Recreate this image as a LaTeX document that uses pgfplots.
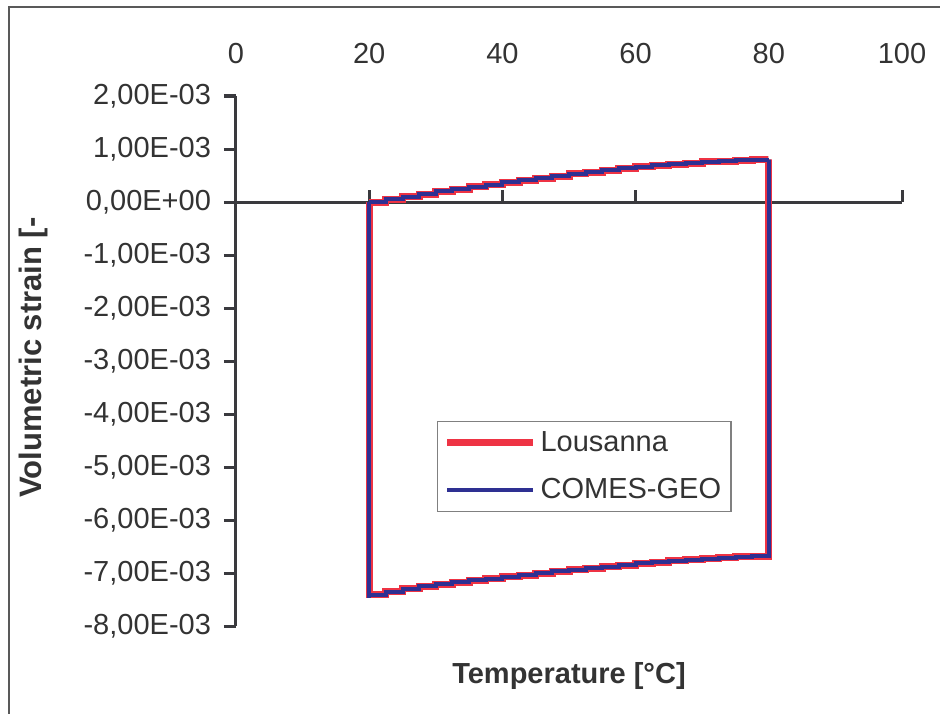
\documentclass[border=0pt]{standalone}
\usepackage{fontspec}
\setmainfont{Liberation Sans}
\usepackage{pgfplots}
\pgfplotsset{compat=1.18}
\definecolor{txt}{HTML}{333333}
\definecolor{axln}{HTML}{3A3A3E}
\definecolor{lous}{HTML}{EE3344}
\definecolor{comes}{HTML}{2E3092}
\newcommand{\lblfont}{\fontsize{14.5}{17}\selectfont}
\begin{document}
\begin{tikzpicture}
\useasboundingbox (-118pt,-43.5pt) rectangle (352pt,313pt);
% outer chart frame (cropped on the right and bottom)
\draw[color=gray!70!black, line width=0.7pt] (-113.5pt,-60pt) -- (-113.5pt,309.5pt) -- (370pt,309.5pt);
\begin{axis}[
    scale only axis,
    width=333pt, height=265pt,
    xmin=0, xmax=100, ymin=-0.008, ymax=0.002,
    axis x line*=middle, axis y line*=left,
    xtick={0,20,40,60,80,100},
    ytick={-0.008,-0.007,-0.006,-0.005,-0.004,-0.003,-0.002,-0.001,0,0.001,0.002},
    yticklabels={{-8,00E-03},{-7,00E-03},{-6,00E-03},{-5,00E-03},{-4,00E-03},
                 {-3,00E-03},{-2,00E-03},{-1,00E-03},{0,00E+00},{1,00E-03},{2,00E-03}},
    scaled y ticks=false,
    xtick align=inside, ytick align=outside,
    major tick length=6pt,
    hide obscured x ticks=false, hide obscured y ticks=false,
    axis line style={axln, line width=1.5pt},
    every tick/.style={axln, line width=1.5pt},
    every tick label/.append style={text=txt, font=\lblfont},
    x tick label style={anchor=center, yshift=74pt},
    y tick label style={xshift=-3pt},
    /pgf/number format/assume math mode=true,
    clip=false,
    legend style={at={(0.3018,0.2151)}, anchor=south west, draw=gray,
        line width=0.6pt, fill=white, font=\lblfont, text=txt,
        inner xsep=3pt, inner ysep=3pt, row sep=8pt, cells={anchor=west}},
    legend image code/.code={\draw[#1] (0pt,0pt) -- (43pt,0pt);},
]
\addplot[const plot, lous, line width=3.5pt] coordinates {
    (20,0) (22.5,0.05e-3) (25,0.10e-3) (27.5,0.15e-3) (30,0.20e-3)
    (32.5,0.245e-3) (35,0.29e-3) (37.5,0.33e-3) (40,0.37e-3) (42.5,0.41e-3)
    (45,0.45e-3) (47.5,0.49e-3) (50,0.53e-3) (52.5,0.565e-3) (55,0.60e-3)
    (57.5,0.635e-3) (60,0.665e-3) (62.5,0.69e-3) (65,0.715e-3) (67.5,0.735e-3)
    (70,0.755e-3) (72.5,0.77e-3) (75,0.785e-3) (77.5,0.795e-3) (80,0.80e-3)
    (80,-6.68e-3) (77.5,-6.69e-3) (75,-6.71e-3) (72.5,-6.73e-3) (70,-6.75e-3)
    (67.5,-6.77e-3) (65,-6.80e-3) (62.5,-6.82e-3) (60,-6.85e-3) (57.5,-6.88e-3)
    (55,-6.91e-3) (52.5,-6.94e-3) (50,-6.97e-3) (47.5,-7.00e-3) (45,-7.04e-3)
    (42.5,-7.07e-3) (40,-7.11e-3) (37.5,-7.14e-3) (35,-7.17e-3) (32.5,-7.21e-3)
    (30,-7.25e-3) (27.5,-7.30e-3) (25,-7.35e-3) (22.5,-7.41e-3) (20,-7.47e-3)
    (20,0)
};
\addlegendentry{Lousanna}
\addplot[const plot, comes, line width=2pt] coordinates {
    (20,0) (22.5,0.05e-3) (25,0.10e-3) (27.5,0.15e-3) (30,0.20e-3)
    (32.5,0.245e-3) (35,0.29e-3) (37.5,0.33e-3) (40,0.37e-3) (42.5,0.41e-3)
    (45,0.45e-3) (47.5,0.49e-3) (50,0.53e-3) (52.5,0.565e-3) (55,0.60e-3)
    (57.5,0.635e-3) (60,0.665e-3) (62.5,0.69e-3) (65,0.715e-3) (67.5,0.735e-3)
    (70,0.755e-3) (72.5,0.77e-3) (75,0.785e-3) (77.5,0.795e-3) (80,0.80e-3)
    (80,-6.68e-3) (77.5,-6.69e-3) (75,-6.71e-3) (72.5,-6.73e-3) (70,-6.75e-3)
    (67.5,-6.77e-3) (65,-6.80e-3) (62.5,-6.82e-3) (60,-6.85e-3) (57.5,-6.88e-3)
    (55,-6.91e-3) (52.5,-6.94e-3) (50,-6.97e-3) (47.5,-7.00e-3) (45,-7.04e-3)
    (42.5,-7.07e-3) (40,-7.11e-3) (37.5,-7.14e-3) (35,-7.17e-3) (32.5,-7.21e-3)
    (30,-7.25e-3) (27.5,-7.30e-3) (25,-7.35e-3) (22.5,-7.41e-3) (20,-7.47e-3)
    (20,0)
};
\addlegendentry{COMES-GEO}
\end{axis}
\node[rotate=90, anchor=west, inner sep=0pt, font=\bfseries\fontsize{15.5}{18}\selectfont, text=txt] at (-101.5pt,64pt) {Volumetric strain [-};
\node[font=\bfseries\lblfont, text=txt] at (166.5pt,-25pt) {Temperature [°C]};
\end{tikzpicture}
\end{document}
